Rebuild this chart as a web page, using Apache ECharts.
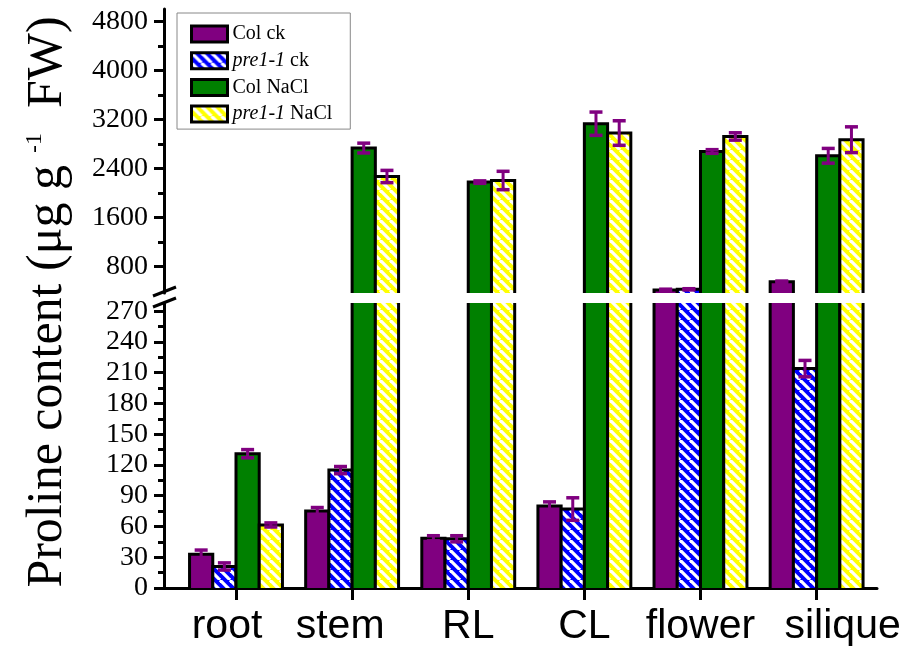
<!DOCTYPE html>
<html>
<head>
<meta charset="utf-8">
<script src="https://cdn.jsdelivr.net/npm/echarts@6/dist/echarts.min.js"></script>
<style>html,body{margin:0;padding:0;background:#fff}#c{width:908px;height:652px}</style>
</head>
<body>
<div id="c"></div>
<script>
// ---- data ----
const categories = ['root', 'stem', 'RL', 'CL', 'flower', 'silique'];
const seriesNames = ['Col ck', 'pre1-1 ck', 'Col NaCl', 'pre1-1 NaCl'];
const colCk      = [33, 75, 48.5, 80, 420, 555];
const colCkErr   = [4, 3.5, 2.5, 4, 12, 10];
const preCk      = [21, 115, 48, 77, 430, 214];
const preCkErr   = [3.5, 3.5, 3, 11, 10, 8];
const colNaCl    = [131, 2733, 2178, 3130, 2677, 2607];
const colNaClErr = [4, 80, 20, 190, 30, 120];
const preNaCl    = [61.5, 2269, 2204, 2978, 2922, 2869];
const preNaClErr = [2, 100, 150, 200, 60, 210];
const upperTicks = [800, 1600, 2400, 3200, 4000, 4800];
const upperMinorTicks = [1200, 2000, 2800, 3600, 4400];
const lowerTicks = [0, 30, 60, 90, 120, 150, 180, 210, 240, 270];
const lowerMinorTicks = [15, 45, 75, 105, 135, 165, 195, 225, 255];

// ---- layout / style ----
const GL = 164, GW = 713;
const UP = {top: 9, height: 284, min: 370, max: 5000};
const LO = {top: 303, height: 285, min: 0, max: 278};
const XMIN = -0.62, XMAX = 5.52;
const labelShift = [-9, -12, 0, 0, 0, 26];

function stripes(base) {
  const s = 10;
  const c = document.createElement('canvas');
  c.width = s; c.height = s;
  const g = c.getContext('2d');
  g.fillStyle = base; g.fillRect(0, 0, s, s);
  g.strokeStyle = '#ffffff'; g.lineWidth = 3.2;
  for (const o of [-s, 0, s]) { g.beginPath(); g.moveTo(o, 0); g.lineTo(o + s, s); g.stroke(); }
  return {image: c, repeat: 'repeat'};
}
const fills = ['#800080', stripes('#0000ff'), '#008000', stripes('#ffff00')];
const ERR = '#800080';

const values = [colCk, preCk, colNaCl, preNaCl];
const errs = [colCkErr, preCkErr, colNaClErr, preNaClErr];

function makeRender(k, axMin) {
  return function (params, api) {
    const cs = params.coordSys;
    const i = api.value(0), v = api.value(1), e = api.value(2);
    if (v <= axMin) return null;
    const unit = api.size([1, 0])[0];
    const groupW = unit * 0.8, barW = groupW / 4;
    const xc = api.coord([i, axMin])[0];
    const x0 = xc - groupW / 2 + k * barW, x1 = x0 + barW;
    const bottom = cs.y + cs.height;
    let yTop = api.coord([i, v])[1];
    const clipped = yTop < cs.y;
    if (clipped) yTop = cs.y;
    const children = [{
      type: 'rect', shape: {x: x0, y: yTop, width: barW, height: bottom - yTop},
      style: {fill: fills[k], stroke: null}
    }];
    const bs = {stroke: '#000', lineWidth: 3, fill: null, lineJoin: 'miter'};
    if (clipped) {
      children.push({type: 'line', shape: {x1: x0, y1: bottom, x2: x0, y2: yTop}, style: bs});
      children.push({type: 'line', shape: {x1: x1, y1: bottom, x2: x1, y2: yTop}, style: bs});
    } else {
      children.push({type: 'polyline', shape: {points: [[x0, bottom], [x0, yTop], [x1, yTop], [x1, bottom]]}, style: bs});
      if (e > 0) {
        const xm = (x0 + x1) / 2;
        const yHi = Math.max(cs.y, api.coord([i, v + e])[1]);
        const yLo = Math.min(bottom, api.coord([i, v - e])[1]);
        const es = {stroke: ERR, lineWidth: 3, fill: null};
        const cw = 6.5;
        children.push({type: 'line', shape: {x1: xm, y1: yHi, x2: xm, y2: yLo}, style: es});
        children.push({type: 'line', shape: {x1: xm - cw, y1: yHi, x2: xm + cw, y2: yHi}, style: {stroke: ERR, lineWidth: 3.5}});
        children.push({type: 'line', shape: {x1: xm - cw, y1: yLo, x2: xm + cw, y2: yLo}, style: {stroke: ERR, lineWidth: 3.5}});
      }
    }
    return {type: 'group', children};
  };
}

const series = [];
[0, 1].forEach(g => {
  const axMin = g === 0 ? UP.min : LO.min;
  for (let k = 0; k < 4; k++) {
    series.push({
      type: 'custom', name: seriesNames[k], xAxisIndex: g, yAxisIndex: g === 0 ? 0 : 2,
      clip: true,
      itemStyle: {color: fills[k], borderColor: '#000', borderWidth: 3},
      renderItem: makeRender(k, axMin),
      data: categories.map((c, i) => [i, values[k][i], errs[k][i]])
    });
  }
});

const serif = 'Liberation Serif';
const axisLineStyle = {color: '#000', width: 3};
function yAxes(gi, cfg, major, minor) {
  return [{
    type: 'value', gridIndex: gi, min: cfg.min, max: cfg.max, position: 'left',
    axisLine: {show: true, onZero: false, lineStyle: axisLineStyle},
    axisTick: {show: true, customValues: major, length: 10, lineStyle: {color: '#000', width: 3}},
    axisLabel: {show: true, customValues: major, margin: 16, color: '#000', fontFamily: serif, fontSize: 28,
      formatter: v => String(v)},
    splitLine: {show: false}
  }, {
    type: 'value', gridIndex: gi, min: cfg.min, max: cfg.max, position: 'left',
    axisLine: {show: false, onZero: false},
    axisTick: {show: true, customValues: minor, length: 6, lineStyle: {color: '#000', width: 3}},
    axisLabel: {show: false},
    splitLine: {show: false}
  }];
}

const xRich = {};
labelShift.forEach((s, i) => {
  xRich['c' + i] = {fontFamily: 'Liberation Sans', fontSize: 41, color: '#000',
    padding: [0, Math.max(0, -2 * s), 0, Math.max(0, 2 * s)]};
});

const xBase = {type: 'value', min: XMIN, max: XMAX, splitLine: {show: false}};

const chart = echarts.init(document.getElementById('c'), null, {renderer: 'canvas'});
chart.setOption({
  animation: false,
  backgroundColor: '#fff',
  grid: [
    {left: GL, width: GW, top: UP.top, height: UP.height, containLabel: false, outerBoundsMode: 'none'},
    {left: GL, width: GW, top: LO.top, height: LO.height, containLabel: false, outerBoundsMode: 'none'}
  ],
  xAxis: [
    Object.assign({}, xBase, {gridIndex: 0, show: false}),
    Object.assign({}, xBase, {
      gridIndex: 1, position: 'bottom',
      axisLine: {show: true, onZero: false, lineStyle: axisLineStyle},
      axisTick: {show: true, customValues: [0, 1, 2, 3, 4, 5], length: 12, lineStyle: {color: '#000', width: 3}},
      axisLabel: {show: true, customValues: [0, 1, 2, 3, 4, 5], margin: 18, color: '#000',
        fontFamily: 'Liberation Sans', fontSize: 41, rich: xRich,
        formatter: v => { const i = Math.round(v); return '{c' + i + '|' + categories[i] + '}'; }}
    })
  ],
  yAxis: [].concat(yAxes(0, UP, upperTicks, upperMinorTicks), yAxes(1, LO, lowerTicks, lowerMinorTicks)),
  legend: {
    left: 177, top: 13, orient: 'vertical',
    padding: [11, 18, 5, 13], itemGap: 6.7, itemWidth: 36, itemHeight: 16,
    borderColor: '#888', borderWidth: 1, backgroundColor: '#fff',
    data: seriesNames.map((n, k) => ({name: n, icon: 'rect',
      itemStyle: {color: fills[k], borderColor: '#000', borderWidth: 3}})),
    formatter: n => n.indexOf('pre1-1') === 0 ? '{i|pre1-1}' + n.slice(6) : n,
    textStyle: {color: '#000', fontFamily: serif, fontSize: 20, lineHeight: 20,
      rich: {i: {fontStyle: 'italic', fontFamily: serif, fontSize: 20, color: '#000'}}}
  },
  graphic: [
    {type: 'line', silent: true,
     shape: {x1: GL - 11, y1: UP.top + UP.height + 3, x2: GL + 12, y2: UP.top + UP.height - 6},
     style: {stroke: '#000', lineWidth: 3}},
    {type: 'line', silent: true,
     shape: {x1: GL - 11, y1: LO.top + 4, x2: GL + 12, y2: LO.top - 5},
     style: {stroke: '#000', lineWidth: 3}},
    {type: 'text', x: 48, y: 302, rotation: Math.PI / 2,
     style: {text: '{a|Proline content (μg g}{s|  -1}{a|  FW)}', align: 'center', verticalAlign: 'middle',
       fill: '#000',
       rich: {a: {fontFamily: serif, fontSize: 50, fill: '#000', color: '#000'},
              s: {fontFamily: serif, fontSize: 24, verticalAlign: 'top', fill: '#000', color: '#000'}}}}
  ],
  series
});
</script>
</body>
</html>
